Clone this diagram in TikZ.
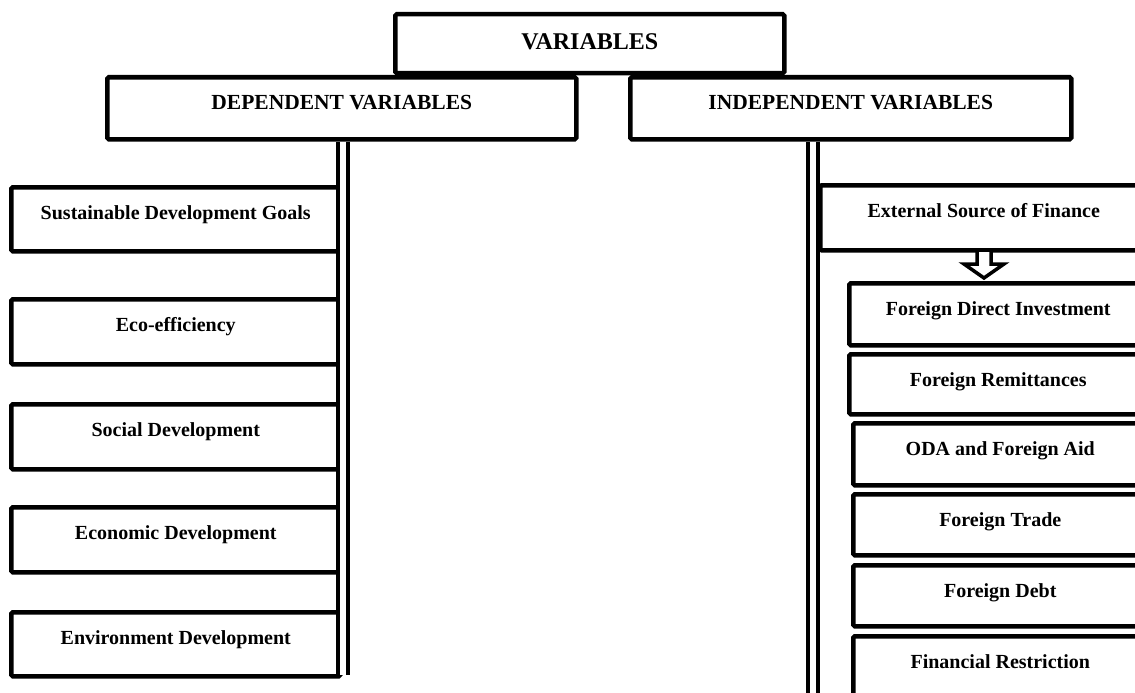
\documentclass[tikz,border=0pt]{standalone}
\usepackage{fontspec}
\setmainfont{Liberation Serif}
\usetikzlibrary{positioning}

\tikzset{
    varbox/.style={draw, line width=4.5pt, rounded corners=1.5pt, inner sep=0pt,
        font=\bfseries\fontsize{20}{24}\selectfont, text height=32pt, text depth=#1},
    rail/.style={draw, line width=4.2pt, double, double distance=5.8pt},
    hollowarrow/.style={draw, line width=3.5pt, fill=white, line join=miter}
}

\begin{document}
\begin{tikzpicture}[x=1pt, y=-1pt]
    \useasboundingbox (0,0) rectangle (1135,693);
    \clip (0,0) rectangle (1135,693);

    % top level
    \node[varbox=24pt, text height=35pt, minimum width=389pt, anchor=north west,
        font=\bfseries\fontsize{24}{28}\selectfont] (var) at (393,12) {VARIABLES};
    \node[varbox=30pt, minimum width=469pt, anchor=north west,
        font=\bfseries\fontsize{21.5}{25}\selectfont] (dep) at (105,75) {DEPENDENT VARIABLES};
    \node[varbox=30pt, minimum width=441pt, anchor=north west,
        font=\bfseries\fontsize{21.5}{25}\selectfont] (indep) at (628,75) {INDEPENDENT VARIABLES};

    % dependent side
    \node[varbox=32pt, minimum width=329pt, anchor=north west] (sdg) at (9,185) {Sustainable Development Goals};
    \node[varbox=33pt, minimum width=329pt, anchor=north west] (eco) at (9,297) {Eco-efficiency};
    \node[varbox=33pt, minimum width=329pt, anchor=north west] (soc) at (9,402) {Social Development};
    \node[varbox=33pt, minimum width=329pt, anchor=north west] (econ) at (9,505) {Economic Development};
    \node[varbox=32pt, minimum width=329pt, anchor=north west] (env) at (9,610) {Environment Development};

    % independent side
    \node[varbox=33pt, minimum width=327pt, anchor=north west] (ext) at (818,183) {External Source of Finance};
    \node[varbox=30pt, minimum width=298pt, anchor=north west] (fdi) at (847,281) {Foreign Direct Investment};
    \node[varbox=28pt, minimum width=298pt, anchor=north west] (rem) at (847,352) {Foreign Remittances};
    \node[varbox=30pt, minimum width=294pt, anchor=north west] (oda) at (851,421) {ODA and Foreign Aid};
    \node[varbox=29pt, minimum width=294pt, anchor=north west] (trade) at (851,492) {Foreign Trade};
    \node[varbox=29pt, minimum width=294pt, anchor=north west] (debt) at (851,563) {Foreign Debt};
    \node[varbox=40pt, minimum width=294pt, anchor=north west] (finres) at (851,634) {Financial Restriction};

    % double rails
    \coordinate (lrail) at (343,675);
    \coordinate (rrail) at (813,700);
    \draw[rail] (dep.south -| lrail) -- (lrail);
    \draw[rail] (indep.south -| rrail) -- (rrail);

    % arrow from ext to fdi
    \coordinate (tip) at (984,278);
    \draw[hollowarrow] (tip) -- ++(-20,-14) -- ++(13,0) -- ++(0,-14) -- ++(14,0)
        -- ++(0,14) -- ++(13,0) -- cycle;
\end{tikzpicture}
\end{document}
